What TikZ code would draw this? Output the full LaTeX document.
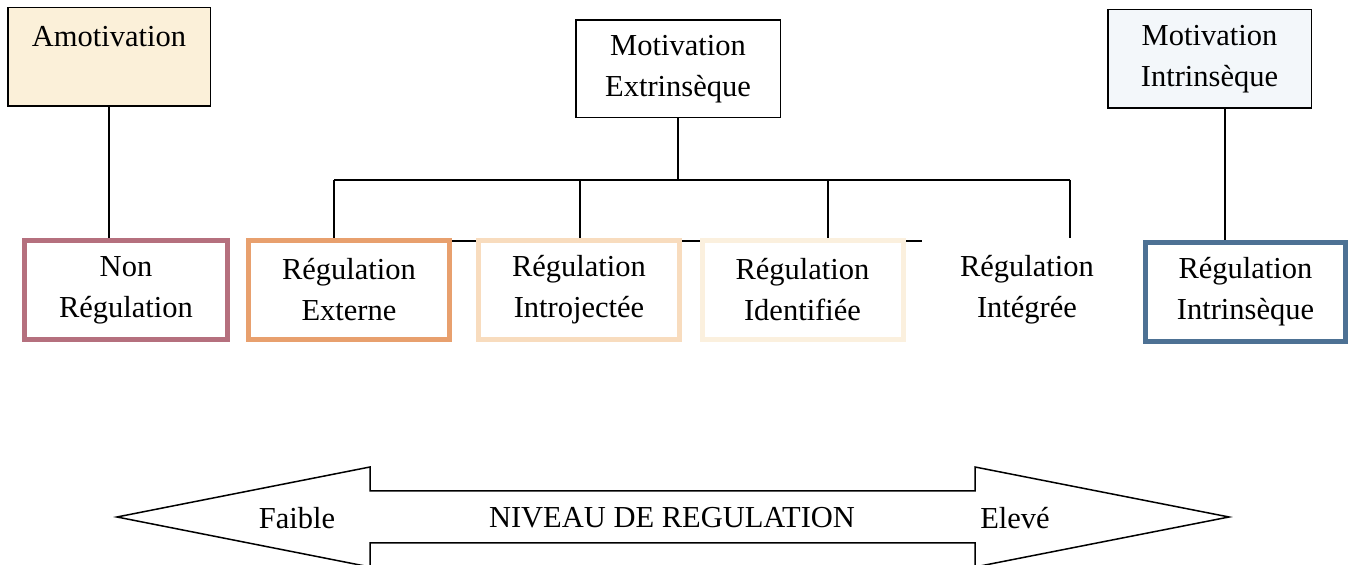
\documentclass[tikz,border=0pt]{standalone}
\usepackage{fontspec}
\setmainfont{Liberation Serif}
\usepackage{tikz}
\usetikzlibrary{positioning}
\definecolor{amotfill}{HTML}{FBF0D9}
\definecolor{intfill}{HTML}{F3F7FA}
\definecolor{nonregc}{HTML}{B5707E}
\definecolor{extc}{HTML}{E8A06E}
\definecolor{introc}{HTML}{F8DCBE}
\definecolor{identc}{HTML}{FBF0DE}
\definecolor{rintc}{HTML}{4D7194}

\begin{document}
\begin{tikzpicture}[x=0.5pt, y=-0.5pt, line width=0.75pt,
  every node/.style={font=\fontsize{15.25}{20.5}\selectfont, align=center},
  motiv/.style={draw, line width=0.75pt, minimum width=101.5pt, minimum height=49.25pt, inner sep=0pt},
  regul/.style={draw, fill=white, line width=2.5pt, minimum width=100.5pt, minimum height=49.5pt, inner sep=0pt}]
  \useasboundingbox (0,0) rectangle (1351,565);
  \draw (452,241) -- (922,241);
  % top row
  \node[motiv, fill=amotfill, minimum width=101.25pt] (amot) at (109,57) {Amotivation\\ \mbox{}};
  \node[motiv, minimum width=102.25pt, minimum height=48.75pt] (mext) at (678,69) {Motivation\\Extrinsèque};
  \node[motiv, fill=intfill, minimum width=101.75pt] (mint) at (1209.5,59) {Motivation\\Intrinsèque};
  % regulation row
  \node[regul, draw=nonregc, minimum width=101.5pt] (nonreg) at (126,290) {Non\\Régulation};
  \node[regul, draw=extc] (ext) at (349,290) {Régulation\\Externe};
  \node[regul, draw=introc] (intro) at (579,290) {Régulation\\Introjectée};
  \node[regul, draw=identc] (ident) at (802.5,290) {Régulation\\Identifiée};
  \node[regul, draw=none] (integ) at (1027,290) {Régulation\\Intégrée};
  \node[regul, draw=rintc, minimum width=100pt] (rint) at (1245.5,292) {Régulation\\Intrinsèque};
  \coordinate (d1) at (334,180);
  \coordinate (d2) at (580,180);
  \coordinate (d3) at (828,180);
  \coordinate (d4) at (1070,180);
  \draw (amot) -- (amot |- nonreg.north);
  \draw (mext) -- (mext |- d1);
  \draw (d1) -- (d4);
  \foreach \d/\n in {d1/ext, d2/intro, d3/ident, d4/integ}
    \draw (\d) -- (\d |- \n.north);
  \draw ([xshift=7.75pt]mint.south) -- ([xshift=7.75pt]mint.south |- rint.north);
  % level arrow
  \draw (117,517) -- (370,467) -- (370,491) -- (975,491) -- (975,467) -- (1229,517)
    -- (975,567) -- (975,543) -- (370,543) -- (370,567) -- cycle;
  \node (faible) at (297,518) {Faible};
  \node (niveau) at (672,518) {NIVEAU DE REGULATION};
  \node (eleve) at (1015,518) {Elevé};
\end{tikzpicture}
\end{document}
